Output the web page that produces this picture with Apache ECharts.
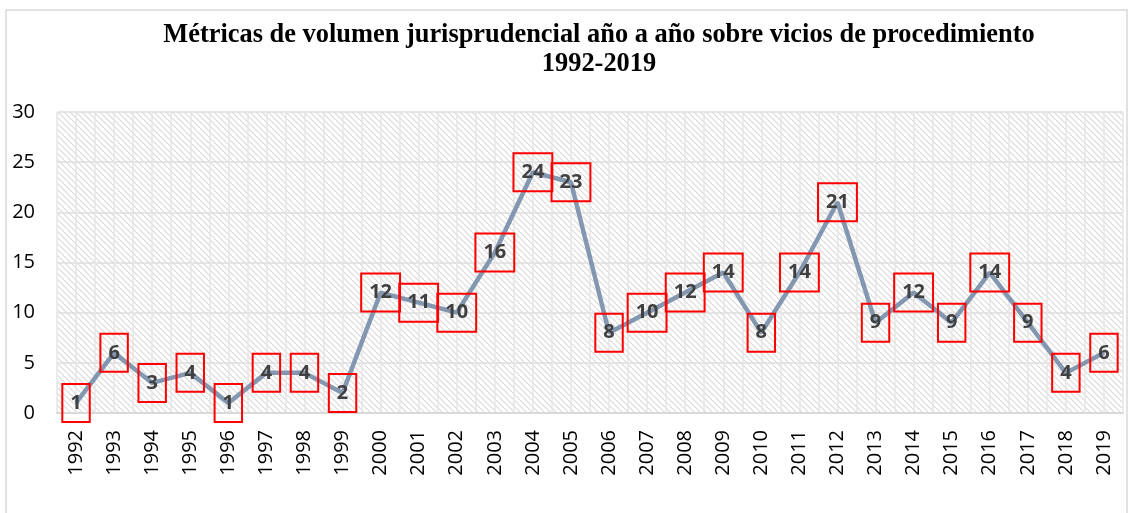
<!DOCTYPE html>
<html>
<head>
<meta charset="utf-8">
<script src="https://cdn.jsdelivr.net/npm/echarts@6/dist/echarts.min.js"></script>
<style>html,body{margin:0;padding:0;background:#fff}#c{width:1133px;height:513px}</style>
</head>
<body>
<div id="c"></div>
<script>
var years = ['1992','1993','1994','1995','1996','1997','1998','1999','2000','2001','2002','2003','2004','2005','2006','2007','2008','2009','2010','2011','2012','2013','2014','2015','2016','2017','2018','2019'];
var values = [1,6,3,4,1,4,4,2,12,11,10,16,24,23,8,10,12,14,8,14,21,9,12,9,14,9,4,6];
var titleLines = ['Métricas de volumen jurisprudencial año a año sobre vicios de procedimiento', '1992-2019'];

var pc = document.createElement('canvas');
pc.width = 6; pc.height = 6;
var ctx = pc.getContext('2d');
ctx.fillStyle = '#ffffff'; ctx.fillRect(0,0,6,6);
ctx.strokeStyle = '#dadada'; ctx.lineWidth = 1.2;
ctx.beginPath(); ctx.moveTo(-1,-1); ctx.lineTo(7,7); ctx.stroke();
ctx.beginPath(); ctx.moveTo(-1,5); ctx.lineTo(1,7); ctx.stroke();
ctx.beginPath(); ctx.moveTo(5,-1); ctx.lineTo(7,1); ctx.stroke();

var chart = echarts.init(document.getElementById('c'), null, {renderer:'canvas'});
chart.setOption({
  backgroundColor:'#ffffff',
  animation:false,
  graphic:[{type:'rect', shape:{x:6,y:10,width:1121,height:520}, style:{fill:'none', stroke:'#d9d9d9', lineWidth:1.5}, z:-10}],
  title:{
    text: titleLines.join('\n'), left:594, top:16, textAlign:'center',
    textStyle:{fontFamily:'Liberation Serif', fontWeight:'bold', fontSize:26.4, color:'#000', lineHeight:29}
  },
  grid:{left:57, right:10, top:112, bottom:100, show:true, borderWidth:0,
        backgroundColor:{image:pc, repeat:'repeat'}},
  xAxis:[{
    type:'category', data:years, boundaryGap:true,
    axisLine:{show:true, lineStyle:{color:'#d9d9d9', width:2}},
    axisTick:{show:false},
    splitLine:{show:false},
    axisLabel:{rotate:90, fontFamily:'Open Sans', fontSize:20, color:'#000', margin:17, interval:0}
  },{
    type:'value', min:0, max:56, interval:1, position:'top',
    axisLine:{show:false}, axisTick:{show:false}, axisLabel:{show:false},
    splitLine:{show:true, lineStyle:{color:'#e6e6e6', width:1.5}}
  }],
  yAxis:{
    type:'value', min:0, max:30, interval:5,
    axisLine:{show:false}, axisTick:{show:false},
    splitLine:{show:true, lineStyle:{color:'#dedede', width:1.5}},
    axisLabel:{fontFamily:'Open Sans', fontSize:20, color:'#000', margin:22}
  },
  series:[{
    type:'line', data:values, xAxisIndex:0, symbol:'circle', symbolSize:2, showSymbol:true,
    itemStyle:{color:'#8497B0'},
    lineStyle:{color:'#8497B0', width:4.5},
    labelLayout:{hideOverlap:false},
    label:{show:true, position:'inside', fontFamily:'Open Sans', fontWeight:'bold', fontSize:20,
      color:'#404040', borderColor:'#ff0000', borderWidth:2, padding:[8,8], lineHeight:22}
  }]
});
</script>
</body>
</html>
